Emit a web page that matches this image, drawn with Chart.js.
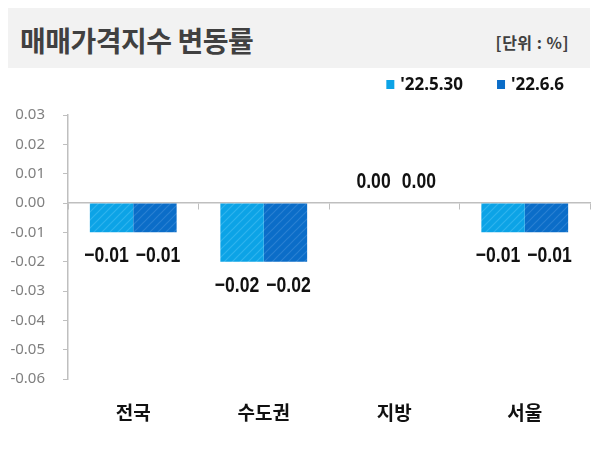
<!DOCTYPE html>
<html>
<head>
<meta charset="utf-8">
<script src="https://cdn.jsdelivr.net/npm/chart.js@4.4.1/dist/chart.umd.min.js"></script>
<style>
  body { margin: 0; width: 600px; height: 449px; background: #fff; overflow: hidden; position: relative; }
  #head { position: absolute; left: 8px; top: 8px; width: 582px; height: 60px; background: #f2f2f2; }
  #title { position: absolute; left: 12px; top: 0; font: bold 28px "Noto Sans CJK KR", sans-serif; line-height: 64px; color: #404040; letter-spacing: -0.5px; }
  #unit { position: absolute; right: 21px; top: 0; font: bold 16px "Noto Sans CJK KR", sans-serif; line-height: 68px; color: #404040; letter-spacing: 0.5px; }
  #wrap { position: absolute; left: 0; top: 70px; width: 600px; height: 379px; }
</style>
</head>
<body>
<div id="head">
  <div id="title">매매가격지수 변동률</div>
  <div id="unit">[단위 : %]</div>
</div>
<div id="wrap"><canvas id="rate_chart"></canvas></div>
<script>
// data
const regions = ['전국', '수도권', '지방', '서울']
const week1_label = "'22.5.30"
const week2_label = "'22.6.6"
const week1 = [-0.01, -0.02, 0.00, -0.01]
const week2 = [-0.01, -0.02, 0.00, -0.01]
const y_ticks = [0.03, 0.02, 0.01, 0.00, -0.01, -0.02, -0.03, -0.04, -0.05, -0.06]

const rate_chart = document.querySelector('#rate_chart')

// striped fill like the original bars
function hatch(base, stripe) {
    const c = document.createElement('canvas')
    c.width = 8
    c.height = 8
    const g = c.getContext('2d')
    g.fillStyle = base
    g.fillRect(0, 0, 8, 8)
    g.strokeStyle = stripe
    g.lineWidth = 1.2
    g.beginPath()
    g.moveTo(0, 8); g.lineTo(8, 0)
    g.moveTo(-4, 4); g.lineTo(4, -4)
    g.moveTo(4, 12); g.lineTo(12, 4)
    g.stroke()
    return g.createPattern(c, 'repeat')
}

// value labels, squeezed sideways since no narrow font is around
// the two labels of a pair are pushed apart a little, like excel does
const valueLabels = {
    id: 'valueLabels',
    afterDatasetsDraw(chart) {
        const ctx = chart.ctx
        chart.data.datasets.forEach((ds, i) => {
            chart.getDatasetMeta(i).data.forEach((bar, j) => {
                const v = ds.data[j]
                const y = v < 0 ? bar.y + 24 : bar.y - 21
                const dx = i === 1 ? 3 : (v < 0 ? -5 : 1)
                const txt = v.toFixed(2).replace('-', '\u2212')
                ctx.save()
                ctx.translate(bar.x + dx, y)
                ctx.scale(0.8, 1)
                ctx.font = 'bold 22px "Liberation Sans", Arial, sans-serif'
                ctx.fillStyle = '#111'
                ctx.textAlign = 'center'
                ctx.textBaseline = 'middle'
                ctx.fillText(txt, 0, 0)
                ctx.restore()
            })
        })
    }
}

// legend drawn at the top right, right aligned
const topLegend = {
    id: 'topLegend',
    afterDraw(chart) {
        const ctx = chart.ctx
        ctx.save()
        ctx.font = 'bold 17px "Noto Sans", sans-serif'
        ctx.textBaseline = 'middle'
        let x = 564
        const y = 14
        const items = chart.data.datasets.slice().reverse()
        items.forEach(ds => {
            const w = ctx.measureText(ds.label).width
            x -= w
            ctx.fillStyle = '#111'
            ctx.fillText(ds.label, x, y + 1)
            x -= 6 + 8
            ctx.fillStyle = ds.legendColor
            ctx.fillRect(x, y - 4, 8, 9)
            x -= 34
        })
        ctx.restore()
    }
}

function rateChart() {
    new Chart(rate_chart, {
        type: 'bar',
        data: {
            labels: regions,
            datasets: [{
                label: week1_label,
                data: week1,
                backgroundColor: hatch('#0ca3e6', '#2fb3ee'),
                legendColor: '#0ca3e6',
                categoryPercentage: 0.665,
                barPercentage: 1
            }, {
                label: week2_label,
                data: week2,
                backgroundColor: hatch('#0b6dc8', '#2a80d2'),
                legendColor: '#0b6dc8',
                categoryPercentage: 0.665,
                barPercentage: 1
            }]
        },
        options: {
            responsive: true,
            maintainAspectRatio: false,
            animation: false,
            layout: { padding: { top: 45, right: 10, left: 0, bottom: 0 } },
            plugins: {
                legend: { display: false },
                tooltip: { enabled: false }
            },
            scales: {
                x: {
                    grid: { display: false },
                    border: { display: false },
                    ticks: {
                        padding: 14,
                        color: '#111',
                        font: { family: '"Noto Sans CJK KR", sans-serif', size: 19, weight: 'bold' }
                    },
                    afterFit(scale) { scale.height = 70 }
                },
                zero: {
                    type: 'category',
                    axis: 'x',
                    labels: regions,
                    position: { y: 0 },
                    grid: { offset: true, drawOnChartArea: false, tickLength: 6, color: '#bfbfbf' },
                    border: { display: true, color: '#bfbfbf', width: 1.5 },
                    ticks: { display: false }
                },
                y: {
                    min: -0.06,
                    max: 0.03,
                    afterBuildTicks(scale) { scale.ticks = y_ticks.map(v => ({ value: v })) },
                    grid: { drawOnChartArea: false, tickLength: 5, tickColor: '#bfbfbf' },
                    border: { display: true, color: '#bfbfbf', width: 1.5 },
                    ticks: {
                        padding: 18,
                        color: '#808080',
                        font: { family: '"Noto Sans", sans-serif', size: 15 },
                        callback: v => Number(v).toFixed(2)
                    },
                    afterFit(scale) { scale.width = 68 }
                }
            }
        },
        plugins: [valueLabels, topLegend]
    })
}
rateChart()
</script>
</body>
</html>
